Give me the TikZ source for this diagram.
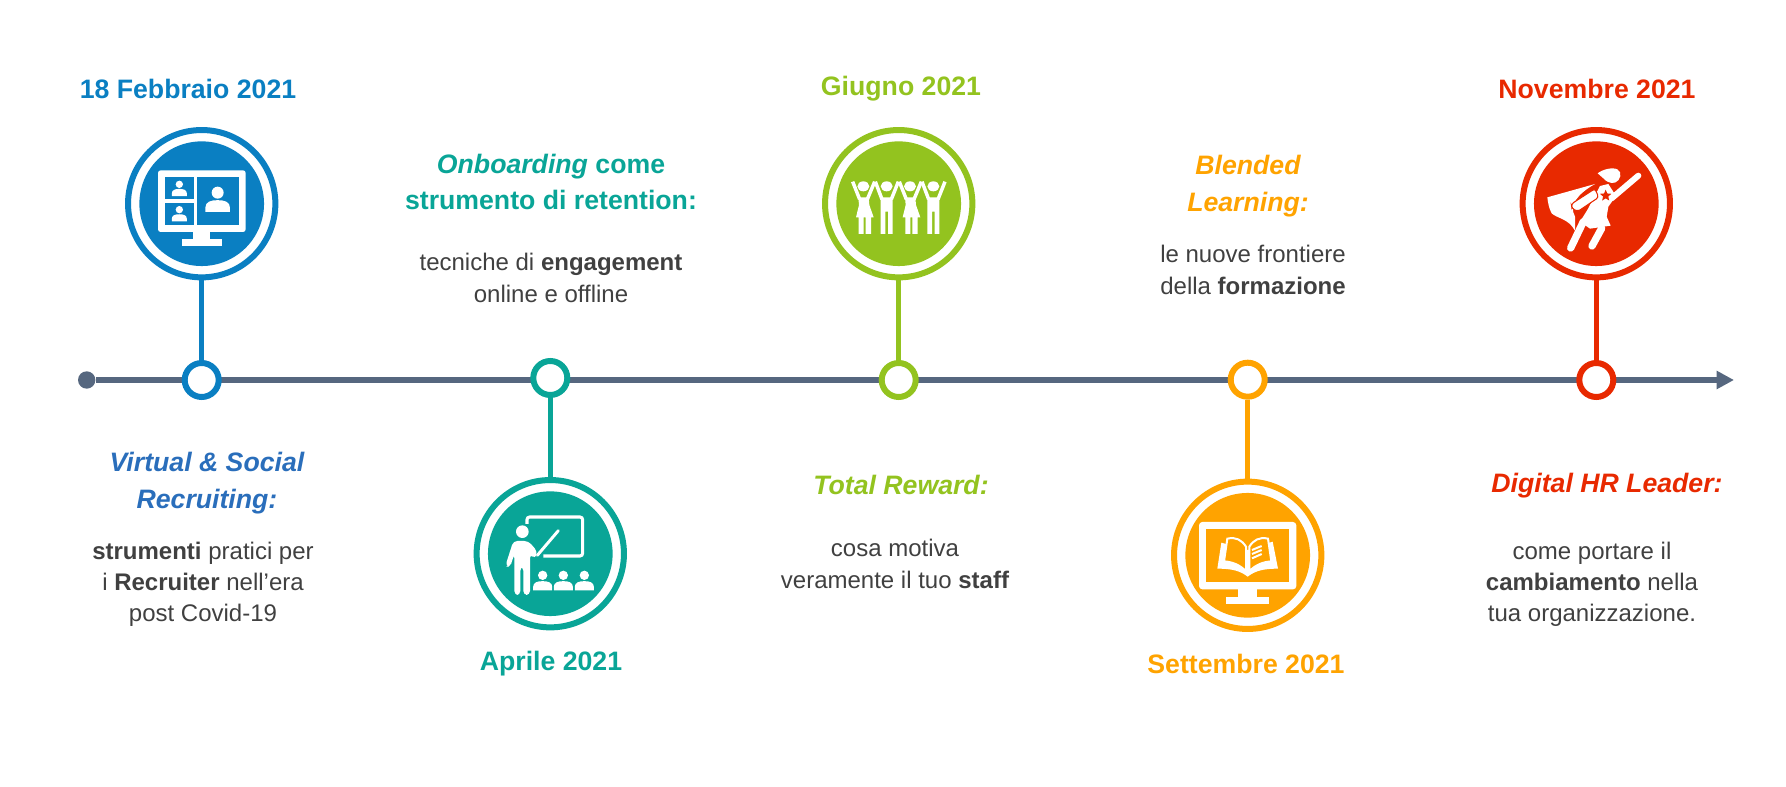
\documentclass[tikz,border=0pt]{standalone}
\usepackage{fontspec}
\setmainfont{Liberation Sans}
\usetikzlibrary{arrows.meta,shapes.geometric}
\definecolor{axisgray}{HTML}{56677F}
\definecolor{tblue}{HTML}{0A7FC2}
\definecolor{ttitle}{HTML}{2A6EBB}
\definecolor{tteal}{HTML}{09A597}
\definecolor{tgreen}{HTML}{93C31F}
\definecolor{torange}{HTML}{FFA300}
\definecolor{tred}{HTML}{E82900}
\definecolor{bodygray}{HTML}{404040}
\tikzset{
  ring/.style={circle,draw=#1,fill=white,line width=4.5pt,minimum size=110.5pt,inner sep=0pt},
  disc/.style={circle,fill=#1,minimum size=93.5pt,inner sep=0pt},
  stop/.style={circle,draw=#1,fill=white,line width=4.5pt,minimum size=25.5pt,inner sep=0pt},
  stem/.style={draw=#1,line width=4pt},
  datelabel/.style={text=#1,font=\fontsize{20}{24}\selectfont\bfseries},
  headlabel/.style={text=#1,align=center,font=\fontsize{20}{27.3}\selectfont\bfseries},
  bodylabel/.style={text=bodygray,align=center,font=\fontsize{18}{23.4}\selectfont},
  icon/.style={shift={#1},x=0.25pt,y=-0.25pt}
}
\newcommand{\personicon}[3]{%
  \fill[white] (#1,#2) circle[radius=#3];
  \fill[white] ({#1-2.05*#3},{#2+3.2*#3}) -- ({#1-2.05*#3},{#2+2.5*#3})
    .. controls ({#1-2.05*#3},{#2+1.5*#3}) and ({#1-1.1*#3},{#2+1.25*#3}) .. (#1,{#2+1.25*#3})
    .. controls ({#1+1.1*#3},{#2+1.25*#3}) and ({#1+2.05*#3},{#2+1.5*#3}) .. ({#1+2.05*#3},{#2+2.5*#3})
    -- ({#1+2.05*#3},{#2+3.2*#3}) -- cycle;}
\newcommand{\womanicon}[1]{%
  \fill[white] (#1,229) ellipse[x radius=18,y radius=15];
  \fill[white] ({#1-15},262) -- ({#1+16},262) -- ({#1+18},285) -- ({#1+31},322) -- ({#1+23},322)
    -- ({#1+23},372) -- ({#1+7},372) -- ({#1+7},322) -- ({#1+1},322) -- ({#1+1},372) -- ({#1-14},372)
    -- ({#1-14},322) -- ({#1-22},322) -- ({#1-13},285) -- cycle;
  \draw[white,line width=2.6pt] ({#1-11},268) -- ({#1-32},215);
  \draw[white,line width=2.6pt] ({#1+12},268) -- ({#1+34},215);}
\newcommand{\manicon}[1]{%
  \fill[white] (#1,229) ellipse[x radius=18,y radius=15];
  \fill[white] ({#1-18},262) -- ({#1+18},262) -- ({#1+18},372) -- ({#1+4},372) -- ({#1+4},305)
    -- ({#1-4},305) -- ({#1-4},372) -- ({#1-18},372) -- cycle;
  \draw[white,line width=2.6pt] ({#1-14},268) -- ({#1-34},215);
  \draw[white,line width=2.6pt] ({#1+14},268) -- ({#1+35},215);}
\begin{document}
\begin{tikzpicture}[x=0.75pt,y=-0.75pt]
  \useasboundingbox (0,0) rectangle (1786,787);
  % timeline
  \node[circle,fill=axisgray,minimum size=13pt,inner sep=0pt] (axisstart) at (86.7,380) {};
  \coordinate (axisend) at (1734,380);
  \draw[axisgray,line width=4.5pt,-{Triangle[length=13pt,width=13pt]}] (axisstart) -- (axisend);
  % stops on the line
  \node[stop=tblue] (stopfeb) at (201.7,380) {};
  \node[stop=tteal] (stopapr) at (550.3,378) {};
  \node[stop=tgreen] (stopjun) at (898.7,380) {};
  \node[stop=torange] (stopsep) at (1247.7,379.7) {};
  \node[stop=tred] (stopnov) at (1596.3,380) {};
  % big circles
  \node[ring=tblue] (ringfeb) at (201.7,203.7) {};
  \node[ring=tteal] (ringapr) at (550.3,553.7) {};
  \node[ring=tgreen] (ringjun) at (898.7,203.7) {};
  \node[ring=torange] (ringsep) at (1247.7,555.3) {};
  \node[ring=tred] (ringnov) at (1596.3,203.7) {};
  \node[disc=tblue] (discfeb) at (ringfeb) {};
  \node[disc=tteal] (discapr) at (ringapr) {};
  \node[disc=tgreen] (discjun) at (ringjun) {};
  \node[disc=torange] (discsep) at (ringsep) {};
  \node[disc=tred] (discnov) at (ringnov) {};
  \draw[stem=tblue] (ringfeb) -- (stopfeb);
  \draw[stem=tteal] (ringapr) -- (stopapr);
  \draw[stem=tgreen] (ringjun) -- (stopjun);
  \draw[stem=torange] (ringsep) -- (stopsep);
  \draw[stem=tred] (ringnov) -- (stopnov);
  % monitor with call
  \begin{scope}[icon={(100,110)}]
    \fill[white,rounded corners=2pt] (174,181) rectangle (437,366);
    \fill[white] (280,360) rectangle (331,390);
    \fill[white] (246,388) rectangle (366,407);
    \fill[tblue] (194,202) rectangle (281,268);
    \fill[tblue] (194,279) rectangle (281,346);
    \fill[tblue] (292,202) rectangle (417,346);
    \personicon{238}{223}{11}
    \personicon{238}{299}{11}
    \personicon{353}{248}{18}
  \end{scope}
  % teacher
  \begin{scope}[icon={(460,350)}]
    \draw[white,line width=2.3pt,rounded corners=2pt] (201,522) -- (201,501) -- (368,501) -- (368,618) -- (250,618);
    \fill[white] (187,545) circle[radius=19];
    \fill[white,rounded corners=3pt] (160,573) -- (205,573) -- (232,604) -- (226,627) -- (210,612) -- (210,735) -- (190,735) -- (190,650)
      -- (181,650) -- (181,735) -- (163,735) -- (163,612) -- (150,652) -- (136,648) -- cycle;
    \draw[white,line width=2.2pt,line cap=round] (232,616) -- (295,542);
    \personicon{248}{676}{14}
    \personicon{310}{676}{14}
    \personicon{373}{676}{14}
  \end{scope}
  % people
  \begin{scope}[icon={(800,110)}]
    \womanicon{190}
    \manicon{260}
    \womanicon{330}
    \manicon{400}
  \end{scope}
  % monitor with book
  \begin{scope}[icon={(1150,350)}]
    \fill[white,rounded corners=2.5pt] (147,516) rectangle (439,718);
    \fill[white] (264,710) rectangle (322,745);
    \fill[white] (227,741) rectangle (358,762);
    \fill[torange] (168,537) rectangle (417,696);
    \fill[white] (214,578) -- (202,656) .. controls (245,656) and (270,662) .. (293,680)
      .. controls (316,662) and (341,656) .. (384,656) -- (368,575) -- (293,600) -- cycle;
    \fill[torange,draw=white,line width=1.5pt] (232,566) .. controls (258,560) and (275,570) .. (288,590) -- (288,664)
      .. controls (270,645) and (248,636) .. (222,634) -- cycle;
    \fill[torange,draw=white,line width=1.5pt] (354,566) .. controls (328,560) and (311,570) .. (298,590) -- (298,664)
      .. controls (316,645) and (338,636) .. (364,634) -- cycle;
    \draw[white,line width=1.5pt] (306,600) -- (335,588) (306,612) -- (335,600) (306,625) -- (335,612);
  \end{scope}
  % superwoman
  \begin{scope}[icon={(1500,110)}]
    \fill[white] (142,262) -- (285,222) .. controls (235,250) and (205,285) .. (225,320) -- (225,362)
      .. controls (205,325) and (170,325) .. (155,310) .. controls (147,295) and (144,280) .. (142,262) -- cycle;
    \fill[white] (293,190) .. controls (305,180) and (335,170) .. (352,178) .. controls (368,186) and (362,212) .. (345,218)
      .. controls (330,222) and (315,212) .. (310,205) -- cycle;
    \fill[white] (300,228) -- (325,222) -- (348,258) -- (325,290) -- (320,320) -- (332,347) -- (270,356) -- (240,335) -- (262,300) -- cycle;
    \draw[white,line width=4.5pt,line cap=round] (335,265) -- (415,197);
    \draw[white,line width=5.5pt,line cap=round] (250,335) -- (212,414);
    \draw[white,line width=5.5pt,line cap=round] (305,355) -- (276,408);
    \draw[tred,line width=0.8pt,fill=white,rounded corners=2pt] (285,236) -- (214,282) -- (216,296) -- (234,304) -- (296,262) -- cycle;
    \node[star,star points=5,star point ratio=2.2,fill=tred,minimum size=9pt,inner sep=0pt] (starbadge) at (317,257) {};
  \end{scope}
  % dates
  \node[datelabel=tblue] (datefeb) at (188,89) {18 Febbraio 2021};
  \node[datelabel=tteal] (dateapr) at (551,664) {Aprile 2021};
  \node[datelabel=tgreen] (datejun) at (901,89) {Giugno 2021};
  \node[datelabel=torange] (datesep) at (1246,664) {Settembre 2021};
  \node[datelabel=tred] (datenov) at (1597,89) {Novembre 2021};
  % titles
  \node[headlabel=ttitle] (headfeb) at (207,483) {\itshape Virtual \& Social\\\itshape Recruiting:};
  \node[headlabel=tteal] (headapr) at (551,182) {\itshape Onboarding \upshape come\\strumento di retention:};
  \node[headlabel=tgreen] (headjun) at (901,485) {\itshape Total Reward:};
  \node[headlabel=torange] (headsep) at (1248,186) {\itshape Blended\\\itshape Learning:};
  \node[headlabel=tred] (headnov) at (1607,486) {\itshape Digital HR Leader:};
  % bodies
  \node[bodylabel] (bodyfeb) at (203,584) {\textbf{strumenti} pratici per\\i \textbf{Recruiter} nell’era\\post Covid-19};
  \node[bodylabel] (bodyapr) at (551,278) {tecniche di \textbf{engagement}\\online e offline};
  \node[bodylabel] (bodyjun) at (895,564) {cosa motiva\\veramente il tuo \textbf{staff}};
  \node[bodylabel] (bodysep) at (1253,270) {le nuove frontiere\\della \textbf{formazione}};
  \node[bodylabel] (bodynov) at (1592,584) {come portare il\\\textbf{cambiamento} nella\\tua organizzazione.};
\end{tikzpicture}
\end{document}
